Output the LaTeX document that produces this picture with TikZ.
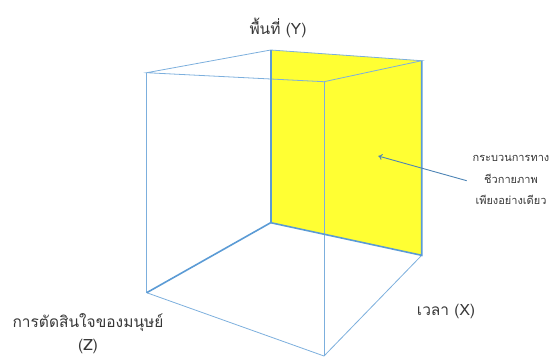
\documentclass[tikz,border=0pt]{standalone}
\usepackage{fontspec}
\usetikzlibrary{arrows.meta}
\newfontfamily\thaifont[Script=Thai]{Loma}
\definecolor{edgeblue}{RGB}{91,155,213}
\definecolor{planeyellow}{RGB}{255,255,51}
\definecolor{labelgray}{RGB}{55,55,55}
\tikzset{
  thinedge/.style={edgeblue!80,line width=0.8pt},
  thickedge/.style={edgeblue,line width=1.6pt},
  axislabel/.style={text=labelgray,font=\thaifont\fontsize{15.5}{18}\selectfont,inner sep=0pt},
  notelabel/.style={text=labelgray,font=\thaifont\fontsize{11}{21.5}\selectfont,align=center,inner sep=0pt}
}
\begin{document}
\begin{tikzpicture}[x=1pt,y=-1pt]
\useasboundingbox (0,0) rectangle (555,357);
\coordinate (ytop) at (270.7,50);
\coordinate (backtr) at (421.7,60.7);
\coordinate (origin) at (270.7,222.7);
\coordinate (xend) at (421.7,255.3);
\coordinate (lefttop) at (146.7,72.7);
\coordinate (zend) at (146.7,292.7);
\coordinate (fronttop) at (324,81.7);
\coordinate (frontbot) at (324,356);
\fill[planeyellow] (ytop) -- (backtr) -- (xend) -- (origin) -- cycle;
\draw[thinedge] (ytop) -- (lefttop) -- (fronttop) -- (backtr) -- (ytop);
\draw[thinedge] (lefttop) -- (zend);
\draw[thinedge] (fronttop) -- (frontbot);
\draw[thinedge] (zend) -- (frontbot) -- (xend);
\draw[thickedge] (ytop) -- (origin);
\draw[thickedge] (origin) -- (zend);
\draw[thickedge] (origin) -- (xend) -- (backtr);
\node[axislabel] (ylabel) at (278,28) {พื้นที่ (Y)};
\node[axislabel] (xlabel) at (446,311) {เวลา (X)};
\node[axislabel] (zlabel) at (88,323) {การตัดสินใจของมนุษย์};
\node[axislabel,anchor=base] (zsym) at (88,350) {(Z)};
\node[notelabel] (note) at (511,180) {กระบวนการทาง\\ชีวกายภาพ\\เพียงอย่างเดียว};
\coordinate (notestart) at (466.7,180.7);
\coordinate (planept) at (378.3,156);
\draw[edgeblue!85!black,line width=0.9pt,-{To[length=4pt,width=6pt]}] (notestart) -- (planept);
\end{tikzpicture}
\end{document}
